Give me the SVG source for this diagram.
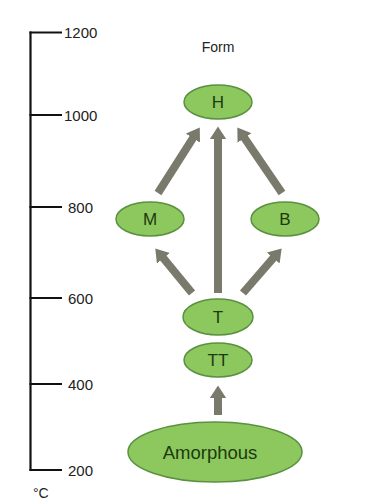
<svg xmlns="http://www.w3.org/2000/svg" width="365" height="504" viewBox="0 0 365 504">
<style>
.node ellipse{fill:#8dc85e;stroke:#5a9040;stroke-width:1.5}
.node text{font-family:"Liberation Sans",Arial,sans-serif;font-size:17px;fill:#1c3a0e;text-anchor:middle}
.axis line{stroke:#111;stroke-width:2.2}
.lbl{font-family:"Liberation Sans",Arial,sans-serif;font-size:15px;fill:#222}
.arr line{stroke:#7a7a6c;stroke-width:8}
</style>
<defs>
<marker id="ah" viewBox="0 0 10 10" preserveAspectRatio="none" refX="1" refY="5" markerWidth="1.6" markerHeight="2.1" orient="auto" markerUnits="strokeWidth">
<path d="M0,0 L10,5 L0,10 z" fill="#7a7a6c"/>
</marker>
</defs>
<rect width="365" height="504" fill="#fff"/>
<g id="axis" class="axis">
<line x1="30.5" y1="31.5" x2="30.5" y2="471"/>
<line x1="29.5" y1="32.5" x2="62" y2="32.5"/>
<line x1="29.5" y1="115" x2="62" y2="115"/>
<line x1="29.5" y1="207" x2="62" y2="207"/>
<line x1="29.5" y1="298" x2="62" y2="298"/>
<line x1="29.5" y1="384" x2="62" y2="384"/>
<line x1="29.5" y1="470" x2="62" y2="470"/>
<text class="lbl" x="64" y="38">1200</text>
<text class="lbl" x="64" y="121">1000</text>
<text class="lbl" x="68" y="213">800</text>
<text class="lbl" x="68" y="304">600</text>
<text class="lbl" x="68" y="390">400</text>
<text class="lbl" x="68" y="476">200</text>
<text class="lbl" x="33" y="498" style="font-size:14px">°C</text>
</g>
<text id="title" class="lbl" x="218" y="52" text-anchor="middle" style="font-size:14px">Form</text>
<g id="connectors" class="arr">
<line x1="218" y1="293" x2="218" y2="138" marker-end="url(#ah)"/>
<line x1="158" y1="193" x2="193.6" y2="137.1" marker-end="url(#ah)"/>
<line x1="282" y1="193" x2="243.8" y2="136.9" marker-end="url(#ah)"/>
<line x1="192" y1="293" x2="162.6" y2="257.3" marker-end="url(#ah)"/>
<line x1="243" y1="293" x2="274.1" y2="257.1" marker-end="url(#ah)"/>
<line x1="218" y1="415" x2="218" y2="397" marker-end="url(#ah)"/>
</g>
<g id="H" class="node"><ellipse cx="218" cy="102" rx="34" ry="17"/><text x="218" y="108">H</text></g>
<g id="M" class="node"><ellipse cx="150" cy="219" rx="34" ry="17"/><text x="150" y="225">M</text></g>
<g id="B" class="node"><ellipse cx="285" cy="219" rx="34" ry="17"/><text x="285" y="225">B</text></g>
<g id="T" class="node"><ellipse cx="218" cy="317" rx="35" ry="18"/><text x="218" y="323">T</text></g>
<g id="TT" class="node"><ellipse cx="218" cy="360" rx="34" ry="17"/><text x="218" y="366">TT</text></g>
<g id="Amorphous" class="node"><ellipse cx="215" cy="452" rx="87" ry="30"/><text x="210" y="459" style="font-size:18.5px">Amorphous</text></g>
</svg>
